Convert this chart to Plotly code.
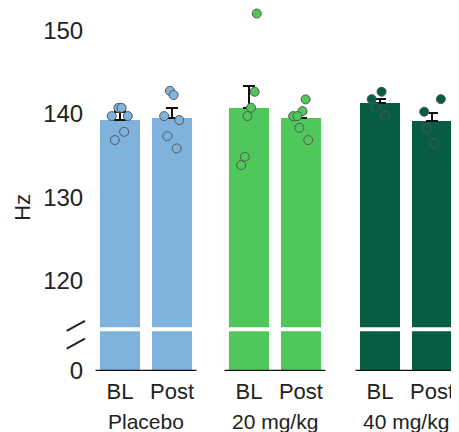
import plotly.graph_objects as go

# ---- data ----
groups = ["Placebo", "20 mg/kg", "40 mg/kg"]
conditions = ["BL", "Post"]
group_offsets = [0.0, 2.48, 5.0]
group_colors = ["#80B2DE", "#50C75A", "#075C44"]

means = [139.3, 139.5, 140.7, 139.5, 141.3, 139.2]
sems = [1.0, 1.2, 2.7, 0.65, 0.55, 0.9]

points = [
    [140.75, 140.75, 139.76, 139.76, 137.87, 136.87],
    [142.8, 142.3, 139.76, 139.28, 137.35, 135.87],
    [152.1, 142.69, 140.77, 139.76, 134.86, 133.86],
    [141.77, 140.36, 139.76, 139.76, 138.35, 136.87],
    [142.69, 141.8, 140.8, 139.8],
    [141.8, 140.28, 138.28, 136.47],
]
jitter = [
    [-0.03, 0.03, -0.16, 0.15, 0.08, -0.10],
    [-0.04, 0.03, -0.15, 0.14, -0.09, 0.09],
    [0.15, 0.11, 0.04, -0.03, -0.08, -0.15],
    [0.09, 0.03, -0.15, -0.07, -0.03, 0.14],
    [0.03, -0.16, -0.08, 0.10],
    [0.17, -0.15, -0.10, 0.04],
]
upper_ticks = [120, 130, 140, 150]

# ---- positions ----
xpos = []
bar_colors = []
tick_text = []
for gi, off in enumerate(group_offsets):
    for ci, c in enumerate(conditions):
        xpos.append(off + ci)
        bar_colors.append(group_colors[gi])
        tick_text.append(c)

FONT = "Liberation Sans, Arial, sans-serif"
fig = go.Figure()

# lower (0) segment bars
fig.add_trace(go.Bar(x=xpos, y=means, width=0.77, marker=dict(color=bar_colors, line_width=0),
                     xaxis="x", yaxis="y", hoverinfo="skip"))
# upper segment bars with SEM
fig.add_trace(go.Bar(x=xpos, y=means, width=0.77, marker=dict(color=bar_colors, line_width=0),
                     error_y=dict(type="data", symmetric=False, array=sems,
                                  arrayminus=[0] * len(sems), color="#111111",
                                  thickness=2.2, width=6),
                     xaxis="x2", yaxis="y2"))

# baseline lines under each group
for gi, off in enumerate(group_offsets):
    fig.add_trace(go.Scatter(x=[off - 0.47, off + 1.47], y=[0, 0], mode="lines",
                             line=dict(color="#111111", width=2.5), cliponaxis=False,
                             xaxis="x", yaxis="y", hoverinfo="skip"))

# individual points
for i, (vals, jit) in enumerate(zip(points, jitter)):
    fig.add_trace(go.Scatter(x=[xpos[i] + j for j in jit], y=vals, mode="markers",
                             marker=dict(size=9, color=bar_colors[i],
                                         line=dict(color="#555555", width=1)),
                             cliponaxis=False, xaxis="x2", yaxis="y2"))

for gi, (g, off) in enumerate(zip(groups, group_offsets)):
    fig.add_annotation(text=g, x=off + 0.5, xref="x", y=-0.140, yref="paper",
                       showarrow=False, yanchor="middle",
                       font=dict(family=FONT, size=21, color="#222222"))

fig.add_annotation(text="Hz", x=-0.183, y=0.4513, xref="paper", yref="paper",
                   textangle=-90, showarrow=False, xanchor="center", yanchor="middle",
                   font=dict(family=FONT, size=22, color="#222222"))

# axis break marks
for (x0, y0, x1, y1) in [(-0.0633, 0.1103, -0.0136, 0.1379), (-0.0633, 0.0618, -0.0136, 0.0893)]:
    fig.add_shape(type="line", xref="paper", yref="paper", x0=x0, y0=y0, x1=x1, y1=y1,
                  line=dict(color="#222222", width=2))

xr = [-0.577, 6.5]
fig.update_layout(
    width=451, height=424,
    margin=dict(l=82, r=1, t=0, b=61),
    paper_bgcolor="white", plot_bgcolor="white",
    showlegend=False, bargap=0,
    font=dict(family=FONT, color="#222222"),
    xaxis=dict(domain=[0, 1], range=xr, anchor="y", tickvals=xpos, ticktext=tick_text,
               showgrid=False, zeroline=False, showline=False, ticks="outside", ticklen=1,
               tickcolor="rgba(0,0,0,0)", tickfont=dict(size=22, family=FONT)),
    xaxis2=dict(domain=[0, 1], range=xr, anchor="y2", matches="x", showticklabels=False,
                showgrid=False, zeroline=False, showline=False, ticks=""),
    yaxis=dict(domain=[0, 0.1095], range=[0, 10], tickvals=[0], showgrid=False,
               zeroline=False, showline=False, ticks="outside", ticklen=1,
               tickcolor="rgba(0,0,0,0)", tickfont=dict(size=24, family=FONT)),
    yaxis2=dict(domain=[0.1205, 1], range=[114.34, 152.77], tickvals=upper_ticks,
                showgrid=False, zeroline=False, showline=False, ticks="outside", ticklen=1,
                tickcolor="rgba(0,0,0,0)", tickfont=dict(size=24, family=FONT)),
)

fig.write_html("out.html")
